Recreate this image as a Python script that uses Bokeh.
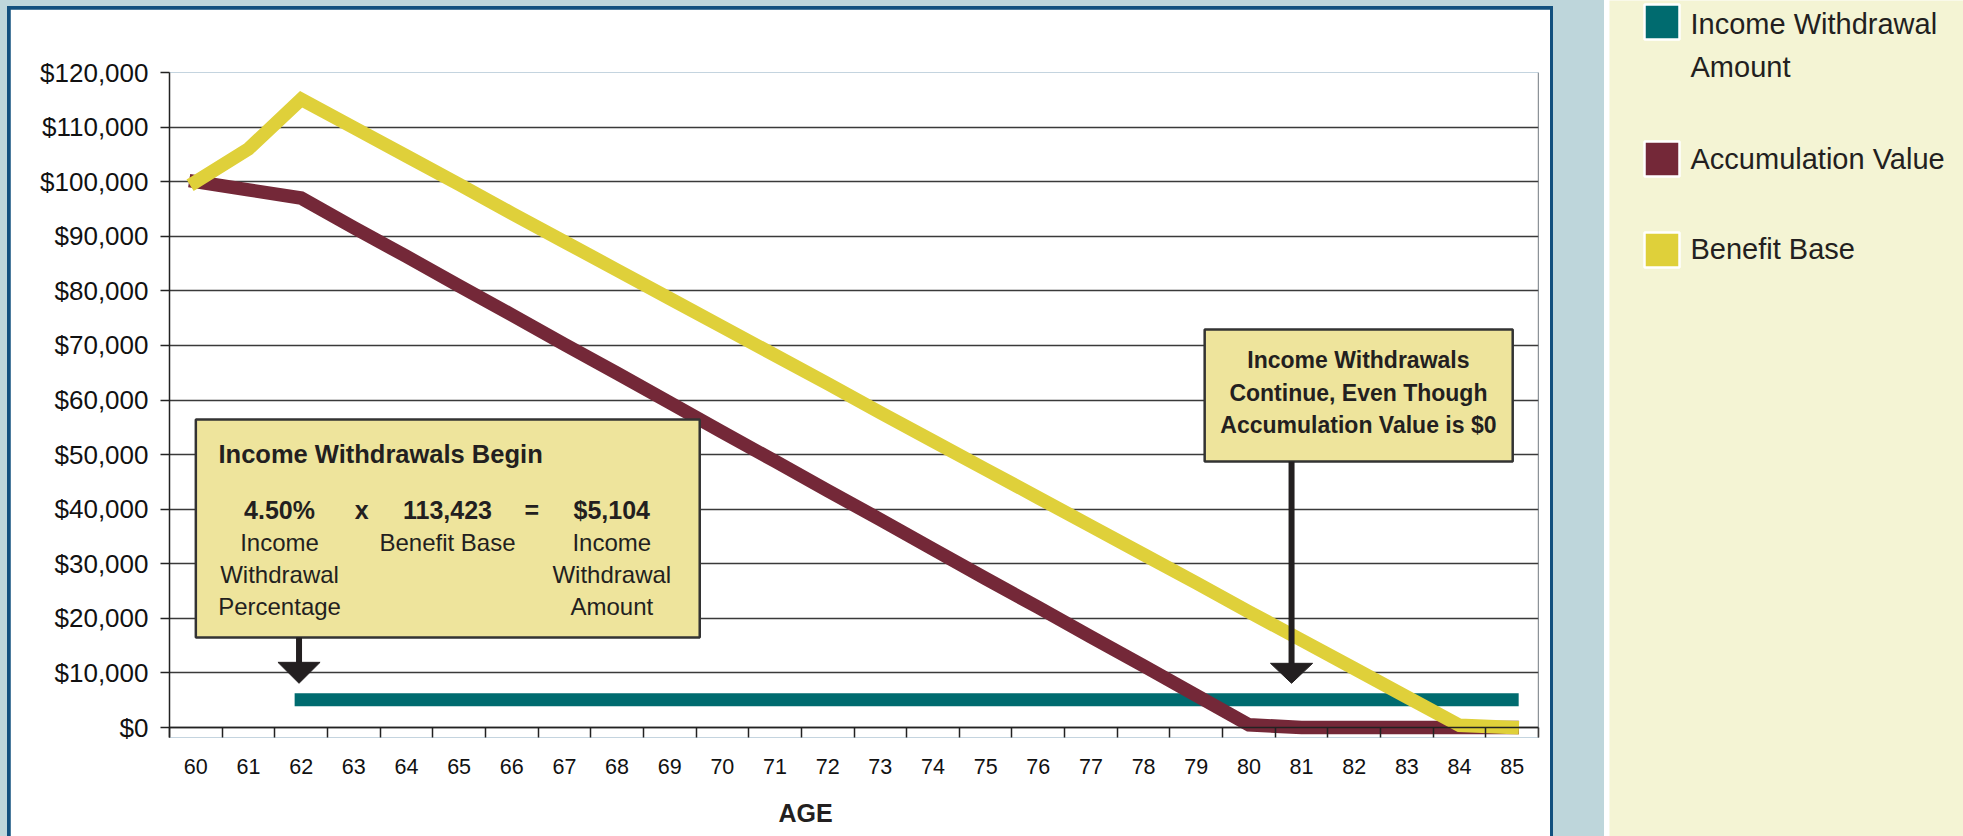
import math
from bokeh.plotting import figure
from bokeh.models import (Range1d, FixedTicker, NumeralTickFormatter, BoxAnnotation,
                          Label, PolyAnnotation, Arrow, Span, Title)
from bokeh.layouts import row, column
from bokeh.embed import file_html
from bokeh.resources import INLINE

# ---------------- data ----------------
ages = [60, 61, 62, 63, 64, 65, 66, 67, 68, 69, 70, 71, 72,
        73, 74, 75, 76, 77, 78, 79, 80, 81, 82, 83, 84, 85]
benefit_base = [100000, 106000, 115100, 109900, 104700, 99500, 94200, 89000, 83800,
                78600, 73400, 68200, 63000, 57700, 52500, 47300, 42100, 36900,
                31700, 26500, 21200, 16000, 10800, 5600, 400, 0]
accumulation_value = [100000, 98500, 97000, 91600, 86300, 80900, 75600, 70200, 64900,
                      59500, 54100, 48800, 43400, 38100, 32700, 27300, 22000, 16600,
                      11300, 5900, 500, 0, 0, 0, 0, 0]
NA = float("nan")
income_withdrawal = [NA, NA, 5104, 5104, 5104, 5104, 5104, 5104, 5104, 5104, 5104,
                     5104, 5104, 5104, 5104, 5104, 5104, 5104, 5104, 5104, 5104,
                     5104, 5104, 5104, 5104, 5104]
y_ticks = [0, 10000, 20000, 30000, 40000, 50000, 60000,
           70000, 80000, 90000, 100000, 110000, 120000]
series_names = ["Income Withdrawal\nAmount", "Accumulation Value", "Benefit Base"]
series_colors = ["#006B6F", "#742838", "#DFD03A"]

# ---------------- styles ----------------
BG = "#BED6DB"
PANEL_BORDER = "#12507E"
CREAM = "#F4F4D4"
BOX_FILL = "#EEE49C"
DARK = "#231F20"
FONT = "Liberation Sans"
Y_LO, Y_HI = -1830, 120000
FRAME_H = 665
PX_PER_UNIT = FRAME_H / (Y_HI - Y_LO)

# the white panel runs past the bottom of the window, as in the original
p = figure(width=1540, height=867,
           x_range=Range1d(59.5, 85.5), y_range=Range1d(Y_LO, Y_HI),
           output_backend="svg", toolbar_location=None,
           min_border_left=159, min_border_right=12, min_border_top=63, min_border_bottom=139,
           background_fill_color="white", border_fill_color="white",
           outline_line_color=None)

# x axis: labels at centres, tick marks at the category boundaries
xa = p.xaxis[0]
xa.ticker = FixedTicker(ticks=ages, minor_ticks=[a - 0.5 for a in ages] + [ages[-1] + 0.5])
xa.axis_line_color = None
xa.major_tick_out = 0
xa.major_tick_in = 0
xa.minor_tick_out = 0
xa.minor_tick_in = 10
xa.minor_tick_line_color = "#222222"
xa.minor_tick_line_width = 1.5
xa.major_label_text_font = FONT
xa.major_label_text_font_size = "21.5px"
xa.major_label_text_color = "#111111"
xa.major_label_standoff = 21

ya = p.yaxis[0]
ya.ticker = FixedTicker(ticks=y_ticks)
ya.formatter = NumeralTickFormatter(format="$0,0")
ya.major_tick_out = 9
ya.major_tick_in = 0
ya.major_tick_line_color = "#222222"
ya.major_tick_line_width = 1.5
ya.axis_line_color = "#222222"
ya.axis_line_width = 1.5
ya.major_label_text_font = FONT
ya.major_label_text_font_size = "26px"
ya.major_label_text_color = "#111111"
ya.major_label_standoff = 12

p.xgrid.visible = False
p.ygrid.ticker = FixedTicker(ticks=y_ticks)
p.ygrid.grid_line_color = "#3A3A3A"
p.ygrid.grid_line_width = 1.3

p.add_layout(Span(location=85.5, dimension="height", line_color="#555555", line_width=1.3))
p.add_layout(Span(location=0, dimension="width", line_color="#222222", line_width=1.5))

p.add_layout(Title(text="AGE", align="left", offset=609, text_font=FONT,
                   text_font_style="bold", text_font_size="25px", text_color=DARK,
                   standoff=40), "below")

# ---------------- series ----------------
p.line(ages, income_withdrawal, line_color=series_colors[0], line_width=13, line_cap="square")
p.line(ages, accumulation_value, line_color=series_colors[1], line_width=13.5,
       line_cap="square", line_join="miter")
p.line(ages, benefit_base, line_color=series_colors[2], line_width=13.5,
       line_cap="square", line_join="miter")

# ---------------- annotations ----------------
def lab(x, base, t, fs, bold=False, align="center"):
    # base = desired text baseline (data units); shift to the label's reference point
    y = base + 0.36 * fs / PX_PER_UNIT
    p.add_layout(Label(x=x, y=y, text=t, text_font=FONT,
                       text_font_style="bold" if bold else "normal",
                       text_font_size="%spx" % fs, text_color=DARK, text_align=align,
                       text_baseline="alphabetic"))

# box 1
p.add_layout(BoxAnnotation(left=60.0, right=69.57, top=56450, bottom=16500,
                           fill_color=BOX_FILL, fill_alpha=1.0,
                           line_color="#333333", line_alpha=1.0, line_width=2.5))
lab(60.43, 48350, "Income Withdrawals Begin", 25.5, bold=True, align="left")
lab(61.59, 38200, "4.50%", 25, bold=True)
lab(63.15, 38200, "x", 25, bold=True)
lab(64.78, 38200, "113,423", 25, bold=True)
lab(66.38, 38200, "=", 25, bold=True)
lab(67.90, 38200, "$5,104", 25, bold=True)
lab(61.59, 32300, "Income", 24)
lab(61.59, 26400, "Withdrawal", 24)
lab(61.59, 20600, "Percentage", 24)
lab(64.78, 32300, "Benefit Base", 24)
lab(67.90, 32300, "Income", 24)
lab(67.90, 26400, "Withdrawal", 24)
lab(67.90, 20600, "Amount", 24)

# box 2
p.add_layout(BoxAnnotation(left=79.16, right=85.01, top=72900, bottom=48750,
                           fill_color=BOX_FILL, fill_alpha=1.0,
                           line_color="#333333", line_alpha=1.0, line_width=2.5))
lab(82.08, 65800, "Income Withdrawals", 23, bold=True)
lab(82.08, 59750, "Continue, Even Though", 23, bold=True)
lab(82.08, 53900, "Accumulation Value is $0", 23, bold=True)

# arrows
for ax, y0, ytop in [(61.96, 16500, 11940), (80.81, 48750, 11760)]:
    p.add_layout(Arrow(end=None, x_start=ax, y_start=y0, x_end=ax, y_end=ytop - 300,
                       line_color=DARK, line_width=6))
    p.add_layout(PolyAnnotation(xs=[ax - 0.4, ax + 0.4, ax], ys=[ytop, ytop, 8100],
                                fill_color=DARK, fill_alpha=1.0,
                                line_color=DARK, line_alpha=1.0, line_width=1))

# ---------------- legend panel ----------------
lf = figure(width=354, height=876, x_range=Range1d(0, 354), y_range=Range1d(876, 0),
            output_backend="svg", toolbar_location=None, min_border=0,
            x_axis_type=None, y_axis_type=None,
            background_fill_color=CREAM, border_fill_color=CREAM, outline_line_color=None)
sw_top = [5, 142, 233]
lf.quad(left=[35, 35, 35], right=[70, 70, 70], top=[t - 1 for t in sw_top],
        bottom=[t + 34 for t in sw_top], fill_color=series_colors,
        line_color="white", line_width=2.5)
text_base = [[34, 77], [169], [259]]
LEG_FS = 29
for name, bases in zip(series_names, text_base):
    for line_text, b in zip(name.split("\n"), bases):
        lf.add_layout(Label(x=81, y=b - 0.36 * LEG_FS, text=line_text, text_font=FONT,
                            text_font_size="%dpx" % LEG_FS, text_color=DARK,
                            text_align="left", text_baseline="alphabetic"))

p.margin = (3, 3, 0, 3)
main_wrap = column(p, styles={"background-color": PANEL_BORDER}, margin=(6, 0, 0, 7))
lf.margin = (0, 0, 0, 5)
legend_wrap = column(lf, styles={"background-color": "#FFFFFF"}, margin=(0, 0, 0, 51))
root = row(main_wrap, legend_wrap, styles={"background-color": BG})

html = file_html(root, INLINE, title="Income Withdrawals")
html = html.replace("<head>", "<head><style>html,body{margin:0;padding:0;background:%s;overflow:hidden;}</style>" % BG, 1)
open("out.html", "w").write(html)
